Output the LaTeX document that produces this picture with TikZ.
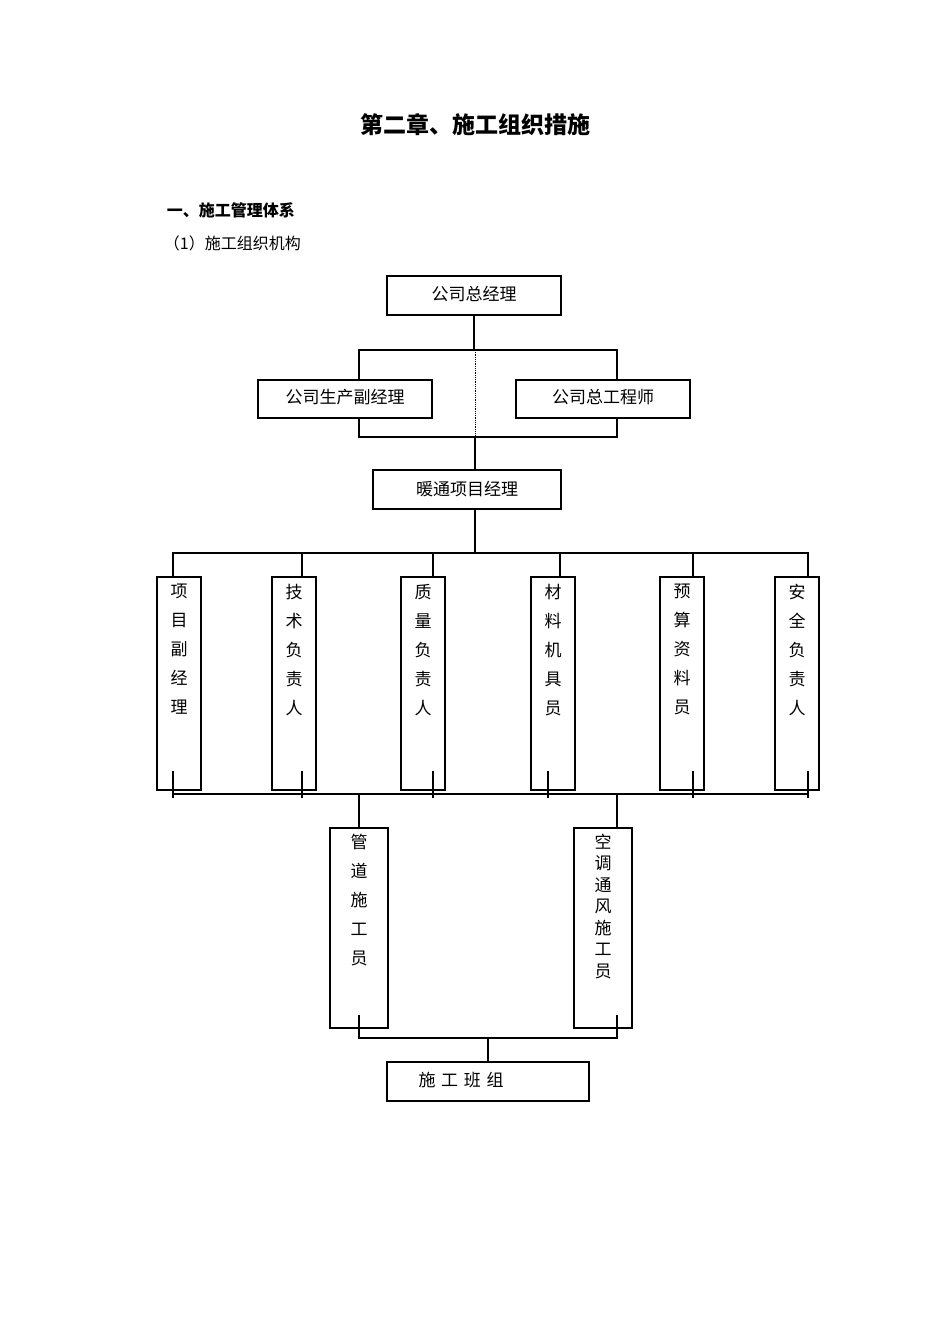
\documentclass[tikz,border=0pt]{standalone}
\usepackage{fontspec}
\newfontfamily\cjk{Noto Sans CJK SC}
\begin{document}
\begin{tikzpicture}[x=1pt,y=-1pt,line width=1.1pt,
  bx/.style={draw,rectangle,minimum width=#1,anchor=north west},
  t/.style={font=\cjk\fontsize{17}{29}\selectfont}]
\useasboundingbox (0,0) rectangle (950,1344);
\fill[white] (0,0) rectangle (950,1344);
\node[font=\cjk\bfseries\fontsize{23}{26}\selectfont] (title) at (475,125) {第二章、施工组织措施};
\node[font=\cjk\bfseries\fontsize{16}{20}\selectfont,anchor=west] (h1) at (163,210) {一、施工管理体系};
\node[font=\cjk\fontsize{16}{20}\selectfont,anchor=west] (h2) at (160,243) {（1）施工组织机构};
% boxes
\draw (387,276) rectangle (561,315); \node[t] (gm) at (474,294) {公司总经理};
\draw (258,380) rectangle (432,418); \node[t] (vp) at (345,397) {公司生产副经理};
\draw (516,380) rectangle (690,418); \node[t] (ce) at (603,397) {公司总工程师};
\draw (373,470) rectangle (561,509); \node[t] (pm) at (467,489) {暖通项目经理};
% top connectors
\draw (474,315) -- (474,350);
\draw (359,380) -- (359,350) -- (617,350) -- (617,380);
\draw[densely dotted,line width=0.8pt] (475,350) -- (475,437);
\draw (359,418) -- (359,437) -- (617,437) -- (617,418);
\draw (475,437) -- (475,470);
\draw (475,509) -- (475,553);
\draw (173,577) -- (173,553) -- (808,553) -- (808,577);
\foreach \x in {302,433,560,693} \draw (\x,553) -- (\x,577);
% tall boxes
\foreach \l/\txt in {157/{项\\目\\副\\经\\理},272/{技\\术\\负\\责\\人},401/{质\\量\\负\\责\\人},531/{材\\料\\机\\具\\员},660/{预\\算\\资\\料\\员},775/{安\\全\\负\\责\\人}}{
  \draw (\l,577) rectangle ++(44,213);
  \node[t,align=center,anchor=north] at (\l+22,580) {\txt};
}
\draw (316,680) -- (316,715);
\draw (173,794) -- (808,794);
\foreach \x in {173,302,433,548,693,808} \draw (\x,771) -- (\x,798);
% lower
\draw (359,794) -- (359,828);
\draw (617,794) -- (617,828);
\draw (330,828) rectangle (388,1028);
\node[t,align=center,anchor=north] at (359,830) {管\\道\\施\\工\\员};
\draw (574,828) rectangle (632,1028);
\node[t,align=center,anchor=north,font=\cjk\fontsize{17}{21.5}\selectfont] at (603,830) {空\\调\\通\\风\\施\\工\\员};
\draw (359,1015) -- (359,1038) -- (617,1038) -- (617,1015);
\draw (488,1038) -- (488,1062);
\draw (387,1062) rectangle (589,1101);
\node[t] (bz) at (461,1080) {施\,\,工\,\,班\,\,组};
\end{tikzpicture}
\end{document}
